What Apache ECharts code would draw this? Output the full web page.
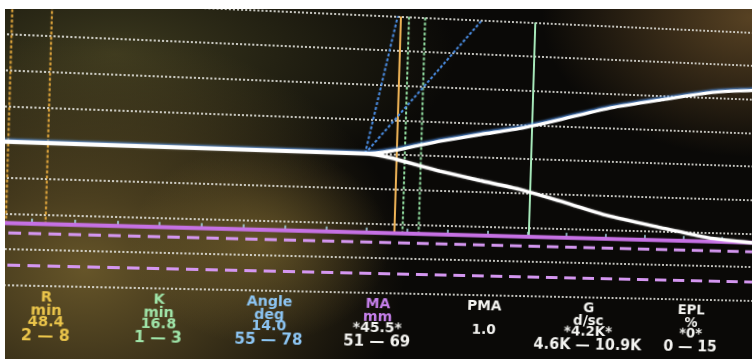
<!DOCTYPE html>
<html>
<head>
<meta charset="utf-8">
<title>TEG tracing</title>
<script src="https://cdn.jsdelivr.net/npm/echarts@6/dist/echarts.min.js"></script>
<style>
  html, body { margin: 0; padding: 0; background: #ffffff; width: 752px; height: 359px; overflow: hidden; }
  /* monitor glass with uneven ambient light */
  #screen {
    position: absolute; left: 5px; top: 9px; width: 747px; height: 350px; overflow: hidden;
    background:
      radial-gradient(ellipse 130px 100px at 255px 235px, rgba(130,108,50,0.6), rgba(130,108,50,0) 100%),
      radial-gradient(ellipse 320px 240px at 80px 260px, rgba(102,85,41,1), rgba(102,85,41,0) 100%),
      radial-gradient(ellipse 340px 150px at 110px 45px, rgba(62,59,31,0.95), rgba(62,59,31,0) 100%),
      radial-gradient(ellipse 210px 140px at 747px 8px, rgba(96,72,38,0.9), rgba(96,72,38,0) 100%),
      #0a0907;
  }
  /* the display is seen at a slight angle */
  #chart {
    position: absolute; left: -65px; top: -49px; width: 880px; height: 440px;
    transform-origin: 436px 224px;
    transform: rotate(1.75deg) perspective(1000px) rotateY(5deg);
  }
</style>
</head>
<body>
<div id="screen"><div id="chart"></div></div>
<script>
// ---- tracing (time in minutes, amplitude in mm) ----
const traceMinutes   = [0, 44.5, 47.6, 51.3, 53.8, 58.8, 63.8, 68.9, 75.2, 81.7, 88.2, 94.0];
const traceAmplitude = [0,  0,    1.9,  6.0,  8.7, 13.4, 17.8, 23.9, 31.8, 37.7, 43.2, 45.5];

// ---- measured parameters ----
const rTime = 48.4;      // min
const kTime = 16.8;      // min
const angleDeg = 14.0;   // deg
const maMm = 45.5;       // mm
const pmaValue = 1.0;
const gValue = '4.2K';   // d/sc
const eplValue = 0;      // %

// ---- normal ranges ----
const rRange = [2, 8];
const kRange = [1, 3];
const angleRange = [55, 78];
const maRange = [51, 69];
const gRange = ['4.6K', '10.9K'];
const eplRange = [0, 15];

// ---- guide lines on the tracing ----
const rGuideMinutes = [2, 6.6];
const angleOrigin = [44.5, 0];
const angleGuideEnds = [[48.0, 40], [58.5, 40]];

// ---- axes ----
const timeMin = 0, timeMax = 100, timeStep = 5;
const ampMin = -40, ampMax = 40, ampStep = 10;

// ---- parameter panel ----
const paramNames  = ['R', 'K', 'Angle', 'MA', 'PMA', 'G', 'EPL'];
const paramUnits  = ['min', 'min', 'deg', 'mm', '', 'd/sc', '%'];
const paramValues = [rTime.toFixed(1), kTime.toFixed(1), angleDeg.toFixed(1),
                     '*' + maMm.toFixed(1) + '*', pmaValue.toFixed(1), '*' + gValue + '*', '*' + eplValue + '*'];
const paramRanges = [rRange.join(' — '), kRange.join(' — '), angleRange.join(' — '),
                     maRange.join(' — '), '', gRange.join(' — '), eplRange.join(' — ')];

const YELLOW = '#ebc54a', GREEN = '#9fe4a8', BLUE = '#8cc5f3', PURPLE = '#c57fea', WHITE = '#f3f3f0';
const headColors  = [YELLOW, GREEN, BLUE, PURPLE, WHITE, WHITE, WHITE];
const bodyColors  = [YELLOW, GREEN, BLUE, WHITE,  WHITE, WHITE, WHITE];
const unitColors  = [YELLOW, GREEN, BLUE, PURPLE, WHITE, WHITE, WHITE];

// ---- layout (pixels inside the chart element) ----
const GRID = { left: 61, top: 55.4, width: 816, height: 277.2 };
const COL_X0 = 118, COL_STEP = 107.9;
const ROW_Y = [344.5, 357.3, 368.5, 382.6];

const chart = echarts.init(document.getElementById('chart'), null, { renderer: 'canvas' });

const maLevel = -maMm / 2;   // lower edge of the tracing at MA
const tickOffset = (maLevel - ampMin) / (ampMax - ampMin) * GRID.height;

function vGuide(t, color, dash) {
  return {
    type: 'line', silent: true, symbol: 'none', z: 3, animation: false,
    data: [[t, ampMax], [t, maLevel]],
    lineStyle: { color: color, width: 2, type: dash }
  };
}
function hGuide(v, color, width, dash) {
  return {
    type: 'line', silent: true, symbol: 'none', z: 4, animation: false,
    data: [[timeMin, v], [timeMax, v]],
    lineStyle: { color: color, width: width, type: dash }
  };
}

const series = [];
rGuideMinutes.forEach(t => series.push(vGuide(t, '#dba23a', [3, 2])));
series.push(vGuide(rTime, '#f0b456', 'solid'));
kRange.forEach(k => series.push(vGuide(rTime + k, '#93e0a2', [3, 2])));
series.push(vGuide(rTime + kTime, '#a9ecbc', 'solid'));
angleGuideEnds.forEach(end => series.push({
  type: 'line', silent: true, symbol: 'none', z: 3, animation: false,
  data: [angleOrigin, end],
  lineStyle: { color: '#4a8ee6', width: 2, type: [3, 2] }
}));
series.push(hGuide(maLevel, '#c671e4', 4, 'solid'));
maRange.forEach(m => series.push(hGuide(-m / 2, '#d496f0', 3, [12, 7])));

// upper and lower edges of the tracing
series.push({
  name: 'upper', type: 'line', symbol: 'none', smooth: 0.2, z: 6, animation: false,
  data: traceMinutes.map((t, i) => [t, traceAmplitude[i] / 2]),
  lineStyle: { color: '#ffffff', width: 3.4, shadowColor: 'rgba(80,150,240,0.75)', shadowBlur: 2, shadowOffsetY: -1.5 }
});
series.push({
  name: 'lower', type: 'line', symbol: 'none', smooth: 0.2, z: 6, animation: false,
  data: traceMinutes.map((t, i) => [t, -traceAmplitude[i] / 2]),
  lineStyle: { color: '#ffffff', width: 3.4, shadowColor: 'rgba(255,255,255,0.5)', shadowBlur: 2 }
});

// parameter panel texts
const graphics = [];
paramNames.forEach((name, i) => {
  const x = COL_X0 + COL_STEP * i;
  const rows = [
    [name, headColors[i], 0],
    [paramUnits[i], unitColors[i], 1],
    [paramValues[i], bodyColors[i], 2],
    [paramRanges[i], bodyColors[i], 3]
  ];
  rows.forEach(([txt, color, r]) => {
    if (!txt) return;
    graphics.push({
      type: 'text', x: x, y: ROW_Y[r], silent: true, z: 10,
      style: {
        text: txt, fill: color,
        font: 'bold ' + (r === 3 ? 15 : 14) + 'px "DejaVu Sans", sans-serif',
        align: 'center', verticalAlign: 'middle',
        textAlign: 'center', textVerticalAlign: 'middle',
        shadowColor: color, shadowBlur: 2
      }
    });
  });
});

chart.setOption({
  backgroundColor: 'transparent',
  animation: false,
  grid: { left: GRID.left, top: GRID.top, width: GRID.width, height: GRID.height, containLabel: false },
  xAxis: [
    { type: 'value', min: timeMin, max: timeMax, interval: timeStep,
      axisLine: { show: false }, axisTick: { show: false }, axisLabel: { show: false }, splitLine: { show: false } },
    { type: 'value', gridIndex: 0, min: timeMin, max: timeMax, interval: timeStep,
      position: 'bottom', offset: -tickOffset,
      axisLine: { show: false },
      axisTick: { show: true, inside: true, length: 5, lineStyle: { color: '#a9dbe9', width: 1.5 } },
      axisLabel: { show: false }, splitLine: { show: false } }
  ],
  yAxis: {
    type: 'value', min: ampMin, max: ampMax, interval: ampStep,
    axisLine: { show: false }, axisTick: { show: false }, axisLabel: { show: false },
    splitLine: { show: true, lineStyle: { color: 'rgba(228,228,222,0.85)', width: 2, type: [2, 2] } }
  },
  graphic: graphics,
  series: series
});
</script>
</body>
</html>
